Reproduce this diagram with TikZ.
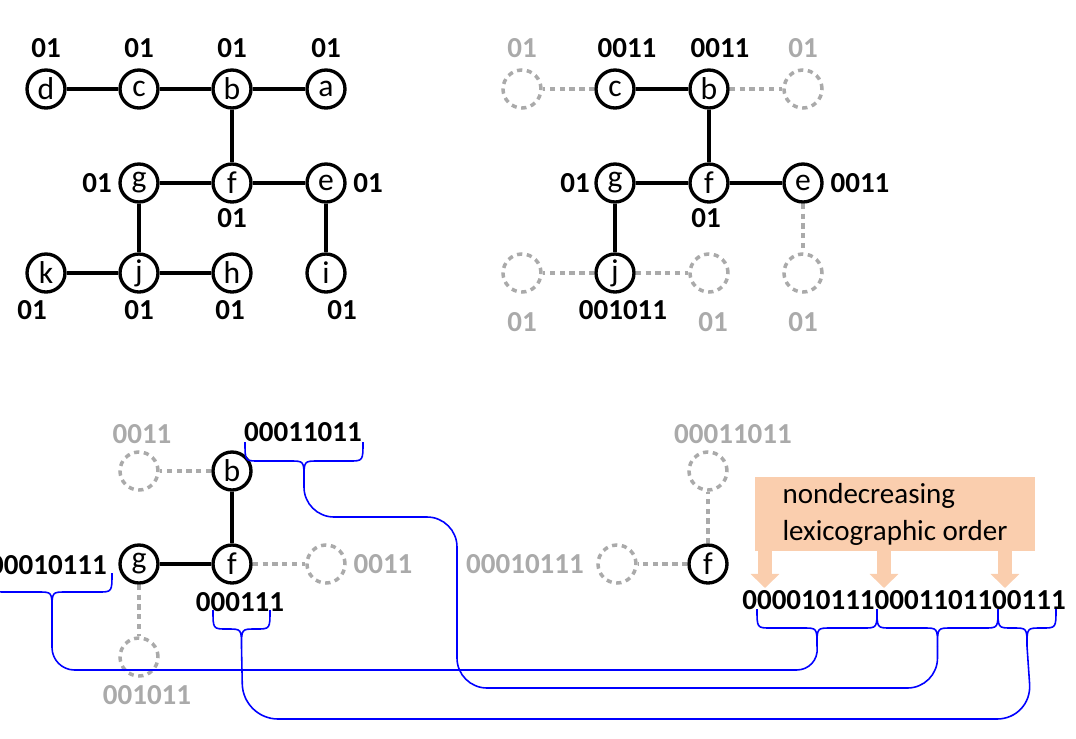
\documentclass[tikz,border=0pt]{standalone}
\usepackage{fontspec}
\setmainfont{Carlito}
\usetikzlibrary{arrows.meta}
\definecolor{ghost}{RGB}{170,170,170}
\definecolor{peach}{RGB}{250,206,174}
\newcommand{\sz}{\fontsize{16.5}{21}\selectfont}
\tikzset{
  vtx/.style={circle, draw, line width=1.9pt, minimum size=0.76cm, inner sep=0pt, font=\fontsize{18}{20}\selectfont},
  ghostvtx/.style={circle, draw=ghost, line width=2pt, dash pattern=on 3pt off 2.6pt, minimum size=0.76cm, inner sep=0pt},
  bond/.style={line width=1.9pt},
  ghostbond/.style={draw=ghost, line width=2pt, dash pattern=on 3pt off 2.6pt},
  code/.style={font=\sz\bfseries, inner sep=0pt},
  ghostcode/.style={font=\sz\bfseries, text=ghost, inner sep=0pt},
  brc/.style={blue, line width=0.9pt},
  link/.style={blue, line width=0.9pt},
  fat/.style={peach, line width=7.9pt, -{Triangle[width=16pt,length=8pt]}},
}
% curly brace under a string: left x, right x, top y, name of the tip
\newcommand{\curly}[4]{%
  \draw[brc] (#1,#3) .. controls (#1,#3+19) .. (#1+14,#3+19)
    -- ({(#1+#2)/2-14},#3+19) .. controls ({(#1+#2)/2},#3+19) .. ({(#1+#2)/2},#3+37)
    coordinate (#4)
    .. controls ({(#1+#2)/2},#3+19) .. ({(#1+#2)/2+14},#3+19)
    -- (#2-14,#3+19) .. controls (#2,#3+19) .. (#2,#3);}
\begin{document}
\begin{tikzpicture}[x=0.02cm, y=-0.02cm, font=\sz]
  \useasboundingbox (0,0) rectangle (1076,738);
  % whole tree
  \node[vtx] (d1) at (46,89) {d};
  \node[vtx] (c1) at (139,89) {c};
  \node[vtx] (b1) at (232,89) {b};
  \node[vtx] (a1) at (326,89) {a};
  \node[vtx] (g1) at (139,183) {g};
  \node[vtx] (f1) at (232,183) {f};
  \node[vtx] (e1) at (326,183) {e};
  \node[vtx] (k1) at (46,273) {k};
  \node[vtx] (j1) at (139,273) {j};
  \node[vtx] (h1) at (232,273) {h};
  \node[vtx] (i1) at (326,273) {i};
  \draw[bond] (d1) -- (c1) -- (b1) -- (a1);
  \draw[bond] (g1) -- (f1) -- (e1);
  \draw[bond] (k1) -- (j1) -- (h1);
  \draw[bond] (b1) -- (f1);
  \draw[bond] (g1) -- (j1);
  \draw[bond] (e1) -- (i1);
  \node[code] (ld1) at (46,48) {01};
  \node[code] (lc1) at (139,48) {01};
  \node[code] (lb1) at (232,48) {01};
  \node[code] (la1) at (326,48) {01};
  \node[code] (lg1) at (97,183) {01};
  \node[code] (le1) at (368,183) {01};
  \node[code] (lf1) at (232,218) {01};
  \node[code] (lk1) at (32,310) {01};
  \node[code] (lj1) at (139,310) {01};
  \node[code] (lh1) at (230,310) {01};
  \node[code] (li1) at (342,310) {01};
  % leaves removed
  \node[vtx] (c2) at (615,89) {c};
  \node[vtx] (b2) at (709,89) {b};
  \node[vtx] (g2) at (615,183) {g};
  \node[vtx] (f2) at (709,183) {f};
  \node[vtx] (e2) at (803,183) {e};
  \node[vtx] (j2) at (615,273) {j};
  \node[ghostvtx] (xd2) at (522,89) {};
  \node[ghostvtx] (xa2) at (803,89) {};
  \node[ghostvtx] (xk2) at (522,273) {};
  \node[ghostvtx] (xh2) at (709,273) {};
  \node[ghostvtx] (xi2) at (803,273) {};
  \draw[bond] (c2) -- (b2) -- (f2) -- (e2);
  \draw[bond] (g2) -- (f2);
  \draw[bond] (g2) -- (j2);
  \draw[ghostbond] (c2) -- (xd2);
  \draw[ghostbond] (b2) -- (xa2);
  \draw[ghostbond] (j2) -- (xk2);
  \draw[ghostbond] (j2) -- (xh2);
  \draw[ghostbond] (e2) -- (xi2);
  \node[ghostcode] (ld2) at (522,48) {01};
  \node[code] (lc2) at (627,48) {0011};
  \node[code] (lb2) at (720,48) {0011};
  \node[ghostcode] (la2) at (803,48) {01};
  \node[code] (lg2) at (575,183) {01};
  \node[code] (le2) at (860,183) {0011};
  \node[code] (lf2) at (706,218) {01};
  \node[code] (lj2) at (623,310) {001011};
  \node[ghostcode] (lk2) at (522,322) {01};
  \node[ghostcode] (lh2) at (713,322) {01};
  \node[ghostcode] (li2) at (803,322) {01};
  % next step
  \node[vtx] (b3) at (232,471) {b};
  \node[vtx] (g3) at (139,564) {g};
  \node[vtx] (f3) at (232,564) {f};
  \node[ghostvtx] (xc3) at (139,471) {};
  \node[ghostvtx] (xe3) at (326,564) {};
  \node[ghostvtx] (xj3) at (139,657) {};
  \draw[bond] (b3) -- (f3) -- (g3);
  \draw[ghostbond] (b3) -- (xc3);
  \draw[ghostbond] (f3) -- (xe3);
  \draw[ghostbond] (g3) -- (xj3);
  \node[ghostcode] (lc3) at (142,434) {0011};
  \node[code] (lb3) at (303,432) {00011011};
  \node[code] (lg3) at (48,565) {00010111};
  \node[ghostcode] (le3) at (383,564) {0011};
  \node[code] (lf3) at (240,602) {000111};
  \node[ghostcode] (lj3) at (147,695) {001011};
  % root
  \node[vtx] (f4) at (708,564) {f};
  \node[ghostvtx] (xg4) at (617,564) {};
  \node[ghostvtx] (xb4) at (708,471) {};
  \draw[ghostbond] (f4) -- (xg4);
  \draw[ghostbond] (f4) -- (xb4);
  \node[ghostcode] (lb4) at (733,434) {00011011};
  \node[ghostcode] (lg4) at (525,564) {00010111};
  \node[code] (lf4) at (904,600) {0000101110001101100111};
  \node[fill=peach, minimum width=5.6cm, minimum height=1.44cm, align=left] (ordbox) at (895,514) {nondecreasing\\lexicographic order};
  \coordinate (p1) at (765,588);
  \coordinate (p2) at (884,588);
  \coordinate (p3) at (1005,588);
  \draw[fat] (ordbox.south -| p1) -- (p1);
  \draw[fat] (ordbox.south -| p2) -- (p2);
  \draw[fat] (ordbox.south -| p3) -- (p3);
  % braces and links
  \curly{245}{363}{442}{tb}
  \curly{-8}{112}{573}{tg}
  \curly{213}{270}{610}{tf}
  \curly{757}{877}{609}{t1}
  \curly{877}{998}{609}{t2}
  \curly{998}{1056}{609}{t3}
  \draw[link, rounded corners=0.6cm] (tb) |- (457,517) -- (457,688) -| (t2);
  \draw[link, rounded corners=0.45cm] (tg) -- (52,670) -- (819,670) -- (t1);
  \draw[link, rounded corners=0.7cm] (tf) -- (243,719) -- (1032,719) -- (t3);
\end{tikzpicture}
\end{document}
